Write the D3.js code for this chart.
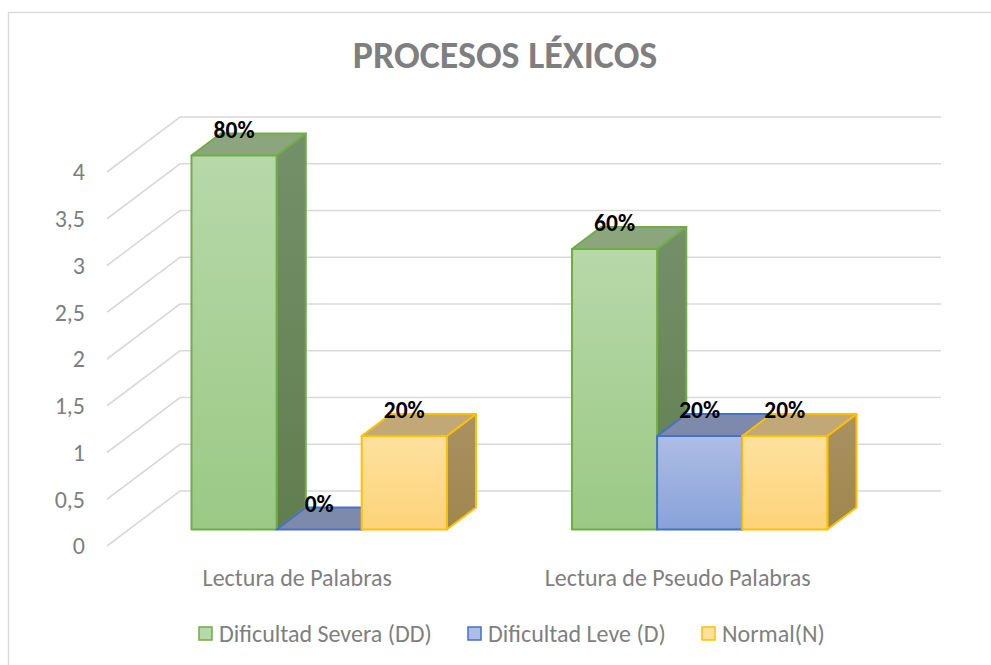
<!DOCTYPE html>
<html>
<head>
<meta charset="utf-8">
<script src="https://cdn.jsdelivr.net/npm/d3@7"></script>
<style>
html,body{margin:0;padding:0;background:#fff;}
svg{display:block;font-family:Carlito,Calibri,Lato,"Open Sans",sans-serif;}
</style>
</head>
<body>
<svg id="chart" width="991" height="665"></svg>
<script>
const title = "PROCESOS LÉXICOS";
const categories = ["Lectura de Palabras", "Lectura de Pseudo Palabras"];
const seriesNames = ["Dificultad Severa (DD)", "Dificultad Leve (D)", "Normal(N)"];
const severa = [4, 3];
const leve = [0, 1];
const normal = [1, 1];
const severaLabels = ["80%", "60%"];
const leveLabels = ["0%", "20%"];
const normalLabels = ["20%", "20%"];
const yTicks = [0, 0.5, 1, 1.5, 2, 2.5, 3, 3.5, 4];

const seriesValues = [severa, leve, normal];
const seriesLabels = [severaLabels, leveLabels, normalLabels];
const palette = [
  {front: ["#b7d8a9", "#9bc985"], side: ["#74906a", "#617e4f"], top: "#8ba67c", stroke: "#70ad47"},
  {front: ["#adbde4", "#88a2da"], side: ["#707fa6", "#5f6f99"], top: "#7e8aac", stroke: "#4472c4"},
  {front: ["#fee19f", "#fdd37a"], side: ["#aa9162", "#9f874f"], top: "#c3a877", stroke: "#ffc000"}
];

const svg = d3.select("#chart");
const DX = 73, DY = 55;       // projected offset for full floor depth
const Z0 = 0.3, Z1 = 0.7;     // bar depth range

const y = d3.scaleLinear().domain([0, 4]).range([546, 172]);
const x0 = d3.scaleBand().domain(categories).range([107, 868]).paddingInner(0.329).paddingOuter(0.1645);
const x1 = d3.scaleBand().domain(seriesNames).range([0, x0.bandwidth()]);
const proj = (x, v, z) => [x + z * DX, y(v) - z * DY];

// outer frame
svg.append("rect").attr("x", 8.5).attr("y", 12.5).attr("width", 1000).attr("height", 700)
  .attr("fill", "none").attr("stroke", "#d9d9d9").attr("stroke-width", 1.3);

// defs gradients
const defs = svg.append("defs");
palette.forEach((p, i) => {
  const g1 = defs.append("linearGradient").attr("id", "front" + i).attr("x1", 0).attr("y1", 0).attr("x2", 0).attr("y2", 1);
  g1.append("stop").attr("offset", "0%").attr("stop-color", p.front[0]);
  g1.append("stop").attr("offset", "100%").attr("stop-color", p.front[1]);
  const g2 = defs.append("linearGradient").attr("id", "side" + i).attr("x1", 0).attr("y1", 0).attr("x2", 0).attr("y2", 1);
  g2.append("stop").attr("offset", "0%").attr("stop-color", p.side[0]);
  g2.append("stop").attr("offset", "100%").attr("stop-color", p.side[1]);
});

// gridlines: diagonal on side wall + horizontal on back wall
const [xl, xr] = x0.range();
const grid = svg.append("g").attr("fill", "none").attr("stroke", "#d9d9d9").attr("stroke-width", 1.6);
yTicks.forEach(t => {
  const a = proj(xl, t, 0), b = proj(xl, t, 1), c = proj(xr, t, 1);
  grid.append("path").attr("d", d3.line()([a, b, c]));
});

// y labels
svg.append("g").selectAll("text").data(yTicks).join("text")
  .attr("x", 85).attr("y", d => y(d)).attr("dy", "0.35em")
  .attr("text-anchor", "end").attr("fill", "#7f7f7f").attr("font-size", 24)
  .text(d => String(d).replace(".", ","));

// bars (left to right for proper overlap)
const line = d3.line();
categories.forEach((cat, ci) => {
  seriesNames.forEach((s, si) => {
    const v = seriesValues[si][ci];
    const p = palette[si];
    const xa = x0(cat) + x1(s), xb = xa + x1.bandwidth();
    const g = svg.append("g").attr("stroke", p.stroke).attr("stroke-width", 2).attr("stroke-linejoin", "round");
    // side
    g.append("path").attr("fill", `url(#side${si})`)
      .attr("d", line([proj(xb, 0, Z0), proj(xb, 0, Z1), proj(xb, v, Z1), proj(xb, v, Z0)]) + "Z");
    // top
    g.append("path").attr("fill", p.top)
      .attr("d", line([proj(xa, v, Z0), proj(xa, v, Z1), proj(xb, v, Z1), proj(xb, v, Z0)]) + "Z");
    // front
    const f0 = proj(xa, v, Z0), f1 = proj(xb, 0, Z0);
    g.append("rect").attr("x", f0[0]).attr("y", f0[1]).attr("width", f1[0] - f0[0]).attr("height", f1[1] - f0[1])
      .attr("fill", `url(#front${si})`);
  });
});

// data labels
categories.forEach((cat, ci) => {
  seriesNames.forEach((s, si) => {
    const v = seriesValues[si][ci];
    const xc = x0(cat) + x1(s) + x1.bandwidth() / 2;
    const pt = proj(xc, v, Z1);
    svg.append("text").attr("x", pt[0] - (Z1 - Z0) * DX).attr("y", pt[1] + 4)
      .attr("text-anchor", "middle").attr("font-weight", "bold").attr("font-size", 23.5).attr("fill", "#000")
      .text(seriesLabels[si][ci]);
  });
});

// category labels
svg.append("g").selectAll("text").data(categories).join("text")
  .attr("x", d => x0(d) + x0.bandwidth() / 2).attr("y", 586)
  .attr("text-anchor", "middle").attr("fill", "#7f7f7f").attr("font-size", 24)
  .text(d => d);

// title
svg.append("text").attr("x", 505).attr("y", 68).attr("text-anchor", "middle")
  .attr("font-weight", "bold").attr("font-size", 38).attr("fill", "#7f7f7f").text(title);

// legend
const legendX = [198, 467, 701];
const lg = svg.append("g");
seriesNames.forEach((s, i) => {
  lg.append("rect").attr("x", legendX[i] + 1).attr("y", 627).attr("width", 13).attr("height", 13)
    .attr("fill", palette[i].front[0]).attr("stroke", palette[i].stroke).attr("stroke-width", 1.5);
  lg.append("text").attr("x", legendX[i] + 21).attr("y", 634).attr("dy", "0.35em")
    .attr("fill", "#7f7f7f").attr("font-size", 24).text(s);
});
</script>
</body>
</html>
